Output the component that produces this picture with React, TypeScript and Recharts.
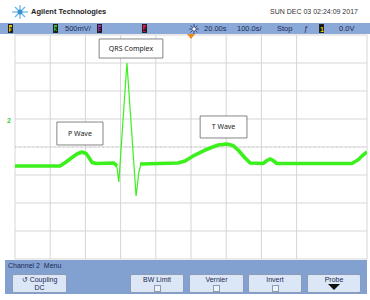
import React from "react";
import {
  LineChart,
  Line,
  XAxis,
  YAxis,
  CartesianGrid,
  ReferenceArea,
  ReferenceLine,
  Label,
} from "recharts";

// Time in ms (100 ms / div), voltage in mV (500 mV / div)
const X_TICKS = [0, 100, 200, 300, 400, 500, 600, 700, 800, 900, 1000];
const Y_TICKS = [-2000, -1500, -1000, -500, 0, 500, 1000, 1500, 2000];

// Slow (thick, noisy) part of the trace: P wave, ST segment, T wave, U bump
const SLOW_T = [0, 128, 145, 162, 176, 190, 202, 210, 219, 230, 281, 290, 322, 355, 463, 483, 511, 540, 577, 602, 619, 634, 651, 668, 705, 716, 724, 733, 744, 957, 974, 989, 1000];
const SLOW_V = [-339, -339, -268, -188, -125, -89, -116, -188, -277, -295, -286, -339, null, -304, -286, -250, -143, -54, 36, 54, 27, -54, -179, -286, -295, -241, -214, -241, -295, -295, -232, -143, -89];

// Fast (thin) QRS complex
const QRS_T = [281, 290, 295, 318, 344, 352, 358];
const QRS_V = [-286, -375, -625, 1500, -875, -446, -304];

// Annotation boxes
const NOTE_TEXT = ["QRS Complex", "P Wave", "T Wave"];
const NOTE_T1 = [239, 119, 526];
const NOTE_T2 = [420, 250, 659];
const NOTE_V1 = [1589, 36, 161];
const NOTE_V2 = [1929, 446, 554];

const slowData = SLOW_T.map((t, i) => ({ t, v: SLOW_V[i] }));
const qrsData = QRS_T.map((t, i) => ({ t, v: QRS_V[i] }));

const TRACE = "#3cf01e";
const BAR_BLUE = "#8aa9d8";
const BAR_TEXT = "#1c2a55";
const FONT = "'Liberation Sans', Arial, sans-serif";

const ChanBox = ({ x, label, bg, color }: { x: number; label: string; bg: string; color: string }) => (
  <div
    style={{
      position: "absolute",
      left: x,
      top: 24,
      width: 5,
      height: 9,
      background: bg,
      color,
      fontSize: 7,
      lineHeight: "9px",
      textAlign: "center",
      fontWeight: "bold",
      border: "0.5px solid #222",
      boxSizing: "border-box",
    }}
  >
    {label}
  </div>
);

const BarText = ({ x, text }: { x: number; text: string }) => (
  <div
    style={{
      position: "absolute",
      left: x,
      top: 23,
      fontSize: 7.5,
      lineHeight: "11px",
      color: BAR_TEXT,
      whiteSpace: "nowrap",
      fontFamily: FONT,
    }}
  >
    {text}
  </div>
);

const Button = ({ x, w, top, bottom }: { x: number; w: number; top: React.ReactNode; bottom: React.ReactNode }) => (
  <div
    style={{
      position: "absolute",
      left: x,
      top: 274,
      width: w,
      height: 19,
      background: "#dbe6f6",
      border: "1px solid #8c9cb4",
      borderRadius: 2,
      boxSizing: "border-box",
      fontSize: 7,
      color: BAR_TEXT,
      textAlign: "center",
      lineHeight: "8px",
      fontFamily: FONT,
    }}
  >
    <div style={{ marginTop: 1 }}>{top}</div>
    <div>{bottom}</div>
  </div>
);

const CheckBox = () => (
  <span
    style={{
      display: "inline-block",
      width: 5,
      height: 5,
      marginTop: 1,
      border: "1px solid #8c9cb4",
      background: "#eef3fb",
    }}
  />
);

export default function App() {
  return (
    <div
      style={{
        position: "fixed",
        left: 0,
        top: 0,
        width: 370,
        height: 300,
        background: "#fff",
        overflow: "hidden",
        fontFamily: FONT,
      }}
    >
      {/* Header */}
      <svg style={{ position: "absolute", left: 10, top: 4 }} width={20} height={16}>
        <g stroke="#5fb6e8" strokeWidth={1.2}>
          <line x1={10} y1={1} x2={10} y2={15} />
          <line x1={2} y1={8} x2={18} y2={8} />
          <line x1={5} y1={3} x2={15} y2={13} />
          <line x1={15} y1={3} x2={5} y2={13} />
        </g>
        <circle cx={10} cy={8} r={2.5} fill="#3a8fd0" />
      </svg>
      <div
        style={{
          position: "absolute",
          left: 31,
          top: 7,
          fontSize: 7.5,
          fontWeight: "bold",
          color: "#222",
          whiteSpace: "nowrap",
        }}
      >
        Agilent Technologies
      </div>
      <div
        style={{
          position: "absolute",
          left: 270,
          top: 8,
          fontSize: 7,
          color: "#333",
          whiteSpace: "nowrap",
        }}
      >
        SUN DEC 03 02:24:09 2017
      </div>

      {/* Status bar */}
      <div style={{ position: "absolute", left: 0, top: 23, width: 370, height: 11, background: BAR_BLUE }} />
      <ChanBox x={8} label="1" bg="#d8c400" color="#111" />
      <ChanBox x={53} label="2" bg="#2fbf3a" color="#111" />
      <BarText x={65} text="500mV/" />
      <ChanBox x={97} label="3" bg="#9a2fc0" color="#111" />
      <ChanBox x={142} label="4" bg="#d01a5a" color="#111" />
      <svg style={{ position: "absolute", left: 189, top: 24 }} width={10} height={10}>
        <g stroke="#2a3a70" strokeWidth={0.8}>
          <line x1={5} y1={0} x2={5} y2={10} />
          <line x1={0} y1={5} x2={10} y2={5} />
          <line x1={1.5} y1={1.5} x2={8.5} y2={8.5} />
          <line x1={8.5} y1={1.5} x2={1.5} y2={8.5} />
        </g>
        <circle cx={5} cy={5} r={2} fill="#fff" stroke="#2a3a70" strokeWidth={0.6} />
      </svg>
      <BarText x={204} text="20.00s" />
      <BarText x={237} text="100.0s/" />
      <BarText x={277} text="Stop" />
      <BarText x={304} text="ƒ" />
      <ChanBox x={319} label="1" bg="#111" color="#e8d400" />
      <BarText x={339} text="0.0V" />

      {/* Chart */}
      <div style={{ position: "absolute", left: 0, top: 0 }}>
        <LineChart width={370} height={300} margin={{ top: 35, right: 3, bottom: 41, left: 15 }}>
          <XAxis type="number" dataKey="t" domain={[0, 1000]} ticks={X_TICKS} hide allowDataOverflow />
          <YAxis type="number" dataKey="v" domain={[-2000, 2000]} ticks={Y_TICKS} hide allowDataOverflow />
          <CartesianGrid stroke="#d6d6d6" strokeWidth={1} />
          <ReferenceLine y={0} stroke="#bdbdbd" strokeDasharray="1 3.4" />
          {NOTE_TEXT.map((txt, i) => (
            <ReferenceArea
              key={txt}
              x1={NOTE_T1[i]}
              x2={NOTE_T2[i]}
              y1={NOTE_V1[i]}
              y2={NOTE_V2[i]}
              fill="#fff"
              fillOpacity={1}
              stroke="#666"
              strokeWidth={0.8}
            >
              <Label value={txt} position="center" fontSize={7} fill="#222" fontFamily="'Noto Sans', sans-serif" />
            </ReferenceArea>
          ))}
          <Line
            data={qrsData}
            dataKey="v"
            type="linear"
            stroke={TRACE}
            strokeWidth={1.2}
            dot={false}
            isAnimationActive={false}
          />
          <Line
            data={slowData}
            dataKey="v"
            type="linear"
            stroke={TRACE}
            strokeWidth={3.6}
            strokeLinejoin="round"
            dot={false}
            connectNulls={false}
            isAnimationActive={false}
          />
        </LineChart>
      </div>

      {/* Ground marker & trigger marker */}
      <div style={{ position: "absolute", left: 7, top: 117, fontSize: 7, color: "#3cc83c", fontWeight: "bold" }}>2</div>
      <svg style={{ position: "absolute", left: 187, top: 34 }} width={8} height={6}>
        <polygon points="0,0 8,0 4,5" fill="#f08a1a" />
      </svg>

      {/* Bottom menu */}
      <div style={{ position: "absolute", left: 5, top: 260, width: 362, height: 34, background: "#82a1d1" }} />
      <div style={{ position: "absolute", left: 8, top: 262, fontSize: 7, color: BAR_TEXT, whiteSpace: "nowrap" }}>
        Channel 2&nbsp; Menu
      </div>
      <Button x={12} w={55} top={<span>↺ Coupling</span>} bottom="DC" />
      <Button x={130} w={54} top="BW Limit" bottom={<CheckBox />} />
      <Button x={189} w={55} top="Vernier" bottom={<CheckBox />} />
      <Button x={248} w={54} top="Invert" bottom={<CheckBox />} />
      <Button
        x={307}
        w={54}
        top="Probe"
        bottom={
          <svg width={12} height={6}>
            <polygon points="0,0 12,0 6,6" fill="#111" />
          </svg>
        }
      />
    </div>
  );
}
